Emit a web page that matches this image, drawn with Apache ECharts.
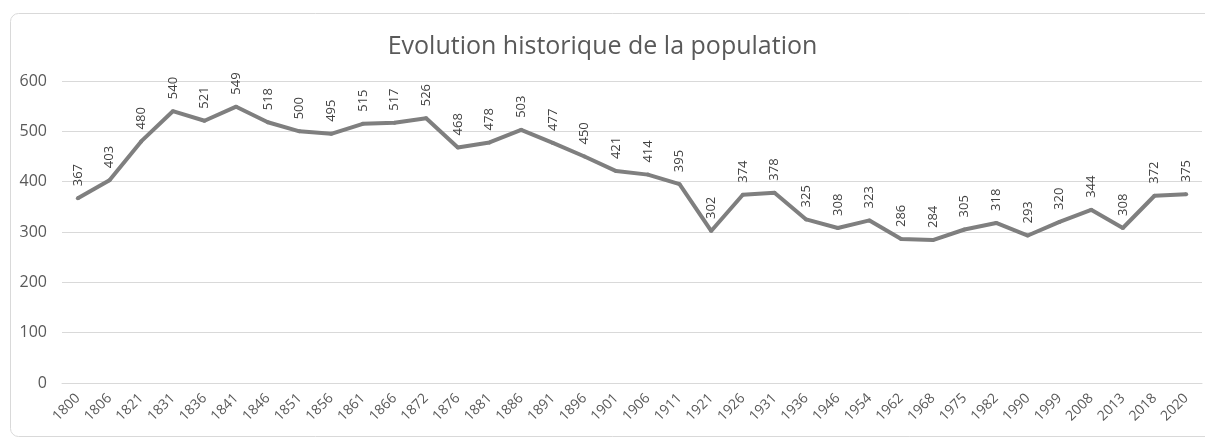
<!DOCTYPE html>
<html>
<head>
<meta charset="utf-8">
<script src="https://cdn.jsdelivr.net/npm/echarts@6/dist/echarts.min.js"></script>
<style>
  html, body { margin: 0; padding: 0; background: #fff; }
  #chart { width: 1205px; height: 439px; }
</style>
</head>
<body>
<div id="chart"></div>
<script>
// années du recensement
const years = ['1800', '1806', '1821', '1831', '1836', '1841', '1846', '1851', '1856', '1861',
  '1866', '1872', '1876', '1881', '1886', '1891', '1896', '1901', '1906', '1911',
  '1921', '1926', '1931', '1936', '1946', '1954', '1962', '1968', '1975', '1982',
  '1990', '1999', '2008', '2013', '2018', '2020']
// population
const population = [367, 403, 480, 540, 521, 549, 518, 500, 495, 515,
  517, 526, 468, 478, 503, 477, 450, 421, 414, 395,
  302, 374, 378, 325, 308, 323, 286, 284, 305, 318,
  293, 320, 344, 308, 372, 375]
const yTicks = [0, 100, 200, 300, 400, 500, 600]

const chart = echarts.init(document.getElementById('chart'))
const option = {
  animation: false,
  graphic: [{
    type: 'rect',
    shape: { x: 10.5, y: 13.5, width: 1220, height: 423, r: 8 },
    style: { fill: 'none', stroke: '#d9d9d9', lineWidth: 1 },
    silent: true
  }],
  title: {
    text: 'Evolution historique de la population',
    left: 'center',
    top: 29,
    textStyle: {
      fontFamily: 'Open Sans',
      fontWeight: 'normal',
      fontSize: 25,
      color: '#595959'
    }
  },
  grid: {
    left: 62,
    right: 3,
    top: 81,
    bottom: 56
  },
  xAxis: {
    type: 'category',
    data: years,
    boundaryGap: true,
    axisLine: { lineStyle: { color: '#d9d9d9' } },
    axisTick: { show: false },
    axisLabel: {
      rotate: 45,
      interval: 0,
      margin: 13,
      color: '#595959',
      fontFamily: 'Open Sans',
      fontSize: 14
    }
  },
  yAxis: {
    type: 'value',
    min: yTicks[0],
    max: yTicks[yTicks.length - 1],
    interval: 100,
    axisLine: { show: false },
    axisTick: { show: false },
    splitLine: { lineStyle: { color: '#d9d9d9' } },
    axisLabel: {
      margin: 15,
      color: '#595959',
      fontFamily: 'Open Sans',
      fontSize: 16
    }
  },
  series: [{
    type: 'line',
    data: population,
    symbol: 'circle',
    symbolSize: 4,
    showSymbol: true,
    itemStyle: { color: '#7f7f7f' },
    lineStyle: { color: '#7f7f7f', width: 4 },
    label: {
      show: true,
      position: 'top',
      rotate: 90,
      align: 'left',
      verticalAlign: 'middle',
      distance: 10,
      color: '#404040',
      fontFamily: 'Open Sans',
      fontSize: 13
    }
  }]
}
chart.setOption(option)
</script>
</body>
</html>
